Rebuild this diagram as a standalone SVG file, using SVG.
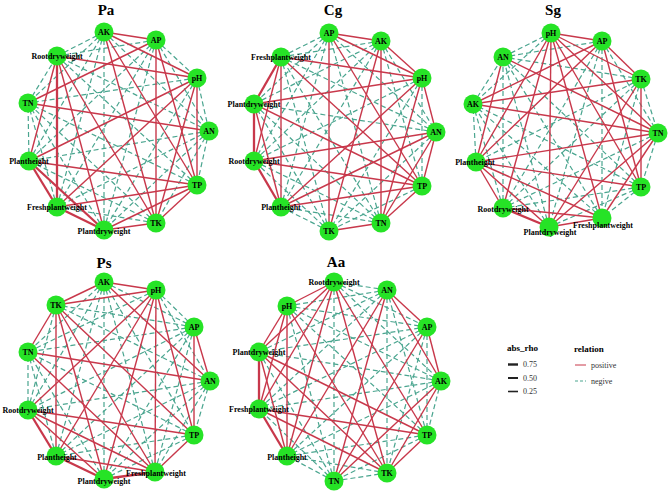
<svg xmlns="http://www.w3.org/2000/svg" width="669" height="496" viewBox="0 0 669 496">
<style>
.n{stroke:#4aa58f;stroke-width:1.2;stroke-dasharray:5 3;fill:none}
.p{stroke:#c8384b;stroke-width:1.4;fill:none}
.t{stroke-width:2.3}
.nd{fill:#26e326}
.lb{font-family:"Liberation Serif",serif;font-weight:bold;font-size:8px;fill:#000;text-anchor:middle}
.ti{font-family:"Liberation Serif",serif;font-weight:bold;font-size:15px;fill:#000;text-anchor:middle}
.lt{font-family:"Liberation Serif",serif;font-weight:bold;font-size:9px;fill:#000}
.li{font-family:"Liberation Serif",serif;font-size:8px;fill:#333}
</style>
<rect width="669" height="496" fill="#fff"/>
<g id="titles">
<text class="ti" x="106" y="15">Pa</text>
<text class="ti" x="333" y="15">Cg</text>
<text class="ti" x="553" y="15">Sg</text>
<text class="ti" x="104" y="268">Ps</text>
<text class="ti" x="336" y="267">Aa</text>
</g>
<g id="connectors">
<g id="pa-edges">
<path class="n" d="M104 32L209 131"/><path class="n" d="M104 32L104 230"/><path class="n" d="M104 32L57 207"/><path class="n" d="M104 32L29 161"/><path class="n" d="M104 32L28 103"/><path class="n" d="M104 32L57 56"/>
<path class="n" d="M156 40L197 78"/><path class="n" d="M156 40L209 131"/><path class="n" d="M156 40L104 230"/><path class="n" d="M156 40L57 207"/><path class="n" d="M156 40L29 161"/><path class="n" d="M156 40L57 56"/>
<path class="n" d="M197 78L209 131"/><path class="n" d="M197 78L104 230"/><path class="n" d="M197 78L28 103"/>
<path class="n" d="M209 131L197 185"/><path class="n" d="M209 131L156 223"/><path class="n" d="M209 131L104 230"/><path class="n" d="M209 131L57 207"/><path class="n" d="M209 131L29 161"/><path class="n" d="M209 131L57 56"/>
<path class="n" d="M197 185L28 103"/><path class="n" d="M197 185L57 56"/>
<path class="n" d="M156 223L57 207"/><path class="n" d="M156 223L29 161"/><path class="n" d="M156 223L28 103"/>
<path class="n" d="M104 230L28 103"/><path class="n" d="M57 207L28 103"/><path class="n" d="M29 161L28 103"/><path class="n" d="M28 103L57 56"/>
<path class="p" d="M104 32L156 40"/><path class="p" d="M104 32L197 78"/><path class="p" d="M104 32L197 185"/><path class="p" d="M104 32L156 223"/>
<path class="p" d="M197 78L57 56"/><path class="p t" d="M57 207L57 56"/><path class="p" d="M29 161L57 56"/><path class="p" d="M104 230L57 56"/><path class="p" d="M156 223L57 56"/>
<path class="p" d="M209 131L28 103"/><path class="p" d="M156 40L28 103"/><path class="p" d="M197 185L29 161"/><path class="p" d="M197 78L29 161"/><path class="p t" d="M104 230L29 161"/><path class="p t" d="M57 207L29 161"/><path class="p t" d="M104 230L57 207"/>
<path class="p" d="M197 78L57 207"/><path class="p" d="M197 185L57 207"/><path class="p" d="M197 185L104 230"/><path class="p" d="M156 223L104 230"/><path class="p" d="M197 78L197 185"/><path class="p" d="M197 78L156 223"/><path class="p" d="M156 40L197 185"/><path class="p" d="M156 40L156 223"/><path class="p" d="M197 185L156 223"/>
</g>
<g id="cg-edges">
<path class="n" d="M329 33L436 132"/><path class="n" d="M329 33L381 223"/><path class="n" d="M329 33L281 207"/><path class="n" d="M329 33L254 161"/><path class="n" d="M329 33L254 104"/><path class="n" d="M329 33L281 57"/>
<path class="n" d="M381 41L436 132"/><path class="n" d="M381 41L422 186"/><path class="n" d="M381 41L281 207"/><path class="n" d="M381 41L254 161"/><path class="n" d="M381 41L254 104"/><path class="n" d="M381 41L281 57"/>
<path class="n" d="M422 78L422 186"/><path class="n" d="M422 78L329 231"/><path class="n" d="M422 78L254 161"/>
<path class="n" d="M436 132L329 231"/><path class="n" d="M436 132L254 104"/><path class="n" d="M436 132L281 57"/>
<path class="n" d="M422 186L329 231"/>
<path class="n" d="M381 223L281 207"/><path class="n" d="M381 223L254 161"/><path class="n" d="M381 223L254 104"/><path class="n" d="M381 223L281 57"/>
<path class="n" d="M329 231L281 207"/><path class="n" d="M329 231L254 161"/><path class="n" d="M329 231L254 104"/><path class="n" d="M329 231L281 57"/>
<path class="p" d="M329 33L381 41"/><path class="p" d="M329 33L422 78"/><path class="p" d="M329 33L422 186"/><path class="p" d="M329 33L329 231"/>
<path class="p" d="M381 41L422 78"/><path class="p" d="M381 41L381 223"/><path class="p" d="M381 41L329 231"/>
<path class="p" d="M422 78L436 132"/><path class="p" d="M422 78L381 223"/><path class="p" d="M422 78L281 207"/><path class="p" d="M422 78L254 104"/><path class="p" d="M422 78L281 57"/>
<path class="p" d="M436 132L422 186"/><path class="p" d="M436 132L381 223"/><path class="p" d="M436 132L281 207"/><path class="p" d="M436 132L254 161"/>
<path class="p" d="M422 186L381 223"/><path class="p" d="M422 186L281 207"/><path class="p" d="M422 186L254 161"/><path class="p" d="M422 186L254 104"/><path class="p" d="M422 186L281 57"/>
<path class="p" d="M381 223L329 231"/>
<path class="p t" d="M281 207L254 161"/><path class="p" d="M281 207L254 104"/><path class="p" d="M281 207L281 57"/><path class="p t" d="M254 161L254 104"/><path class="p" d="M254 161L281 57"/><path class="p t" d="M254 104L281 57"/>
</g>
<g id="sg-edges">
<path class="n" d="M551 33L473 104"/><path class="n" d="M551 33L503 57"/>
<path class="n" d="M602 41L658 133"/><path class="n" d="M602 41L602 218"/><path class="n" d="M602 41L549 227"/><path class="n" d="M602 41L503 208"/><path class="n" d="M602 41L503 57"/>
<path class="n" d="M641 79L658 133"/><path class="n" d="M641 79L602 218"/><path class="n" d="M641 79L503 208"/><path class="n" d="M641 79L476 162"/><path class="n" d="M641 79L503 57"/>
<path class="n" d="M658 133L641 187"/><path class="n" d="M658 133L503 208"/>
<path class="n" d="M641 187L602 218"/><path class="n" d="M641 187L549 227"/><path class="n" d="M641 187L503 208"/><path class="n" d="M641 187L473 104"/><path class="n" d="M641 187L503 57"/>
<path class="n" d="M602 218L473 104"/><path class="n" d="M602 218L503 57"/><path class="n" d="M549 227L473 104"/><path class="n" d="M549 227L503 57"/>
<path class="n" d="M503 208L473 104"/><path class="n" d="M503 208L503 57"/><path class="n" d="M476 162L473 104"/><path class="n" d="M473 104L503 57"/>
<path class="p" d="M551 33L602 41"/><path class="p" d="M551 33L641 79"/><path class="p" d="M551 33L658 133"/><path class="p" d="M551 33L641 187"/><path class="p" d="M551 33L602 218"/><path class="p" d="M551 33L549 227"/><path class="p" d="M551 33L503 208"/><path class="p" d="M551 33L476 162"/>
<path class="p" d="M602 41L641 79"/><path class="p" d="M602 41L641 187"/><path class="p" d="M602 41L476 162"/><path class="p" d="M602 41L473 104"/>
<path class="p" d="M641 79L641 187"/><path class="p" d="M641 79L549 227"/><path class="p" d="M641 79L473 104"/>
<path class="p" d="M658 133L602 218"/><path class="p" d="M658 133L549 227"/><path class="p" d="M658 133L476 162"/><path class="p" d="M658 133L473 104"/><path class="p" d="M658 133L503 57"/>
<path class="p" d="M641 187L476 162"/>
<path class="p" d="M602 218L549 227"/><path class="p" d="M602 218L503 208"/><path class="p" d="M602 218L476 162"/>
<path class="p t" d="M549 227L503 208"/><path class="p" d="M549 227L476 162"/><path class="p" d="M503 208L476 162"/><path class="p" d="M476 162L503 57"/>
</g>
<g id="ps-edges">
<path class="n" d="M104 282L194 327"/><path class="n" d="M104 282L194 435"/><path class="n" d="M104 282L155 472"/><path class="n" d="M104 282L104 479"/><path class="n" d="M104 282L56 456"/><path class="n" d="M104 282L28 410"/><path class="n" d="M104 282L28 352"/>
<path class="n" d="M156 290L194 327"/><path class="n" d="M156 290L210 381"/><path class="n" d="M156 290L28 352"/>
<path class="n" d="M194 327L155 472"/><path class="n" d="M194 327L104 479"/><path class="n" d="M194 327L56 456"/><path class="n" d="M194 327L28 410"/><path class="n" d="M194 327L28 352"/><path class="n" d="M194 327L56 305"/>
<path class="n" d="M210 381L194 435"/><path class="n" d="M210 381L155 472"/><path class="n" d="M210 381L104 479"/><path class="n" d="M210 381L56 456"/><path class="n" d="M210 381L28 410"/><path class="n" d="M210 381L56 305"/>
<path class="n" d="M194 435L104 479"/><path class="n" d="M194 435L56 456"/><path class="n" d="M194 435L28 352"/>
<path class="n" d="M104 479L28 352"/><path class="n" d="M56 456L28 352"/><path class="n" d="M28 410L28 352"/><path class="n" d="M28 410L56 305"/>
<path class="p" d="M104 282L156 290"/><path class="p" d="M104 282L210 381"/><path class="p" d="M104 282L56 305"/>
<path class="p" d="M156 290L194 435"/><path class="p" d="M156 290L155 472"/><path class="p" d="M156 290L104 479"/><path class="p" d="M156 290L56 456"/><path class="p" d="M156 290L28 410"/><path class="p" d="M156 290L56 305"/>
<path class="p" d="M194 327L210 381"/><path class="p" d="M194 327L194 435"/><path class="p" d="M210 381L28 352"/>
<path class="p" d="M194 435L155 472"/><path class="p" d="M194 435L28 410"/><path class="p" d="M194 435L56 305"/>
<path class="p t" d="M155 472L104 479"/><path class="p" d="M155 472L56 456"/><path class="p" d="M155 472L28 410"/><path class="p" d="M155 472L28 352"/><path class="p" d="M155 472L56 305"/>
<path class="p t" d="M104 479L56 456"/><path class="p" d="M104 479L28 410"/><path class="p" d="M104 479L56 305"/><path class="p t" d="M56 456L28 410"/><path class="p" d="M56 456L56 305"/><path class="p" d="M28 352L56 305"/>
</g>
<g id="aa-edges">
<path class="n" d="M334 282L387 290"/><path class="n" d="M334 282L427 327"/><path class="n" d="M334 282L441 381"/><path class="n" d="M334 282L334 481"/>
<path class="n" d="M387 290L427 435"/><path class="n" d="M387 290L387 473"/><path class="n" d="M387 290L259 409"/><path class="n" d="M387 290L259 352"/><path class="n" d="M387 290L287 306"/>
<path class="n" d="M427 327L427 435"/><path class="n" d="M427 327L387 473"/><path class="n" d="M427 327L287 456"/><path class="n" d="M427 327L259 409"/><path class="n" d="M427 327L259 352"/><path class="n" d="M427 327L287 306"/>
<path class="n" d="M441 381L427 435"/><path class="n" d="M441 381L287 456"/><path class="n" d="M441 381L259 409"/><path class="n" d="M441 381L259 352"/><path class="n" d="M441 381L287 306"/>
<path class="n" d="M427 435L334 481"/><path class="n" d="M427 435L287 456"/><path class="n" d="M427 435L287 306"/>
<path class="n" d="M387 473L334 481"/><path class="n" d="M387 473L287 456"/>
<path class="n" d="M334 481L287 456"/><path class="n" d="M334 481L259 409"/><path class="n" d="M334 481L259 352"/><path class="n" d="M334 481L287 306"/>
<path class="p" d="M334 282L427 435"/><path class="p" d="M334 282L387 473"/><path class="p" d="M334 282L287 456"/><path class="p" d="M334 282L259 409"/><path class="p" d="M334 282L259 352"/><path class="p" d="M334 282L287 306"/>
<path class="p" d="M387 290L427 327"/><path class="p" d="M387 290L441 381"/><path class="p" d="M387 290L334 481"/><path class="p" d="M387 290L287 456"/>
<path class="p" d="M427 327L441 381"/><path class="p" d="M427 327L334 481"/><path class="p" d="M441 381L387 473"/><path class="p" d="M441 381L334 481"/>
<path class="p" d="M427 435L387 473"/><path class="p" d="M427 435L259 409"/><path class="p" d="M427 435L259 352"/>
<path class="p" d="M387 473L259 409"/><path class="p" d="M387 473L259 352"/><path class="p" d="M387 473L287 306"/>
<path class="p t" d="M287 456L259 409"/><path class="p" d="M287 456L259 352"/><path class="p" d="M287 456L287 306"/><path class="p t" d="M259 409L259 352"/><path class="p" d="M259 409L287 306"/><path class="p" d="M259 352L287 306"/>
</g>
</g>
<g id="pa-nodes">
<g id="pa-AK"><circle class="nd" cx="104" cy="32" r="9.5"/><text class="lb" x="104" y="35">AK</text></g>
<g id="pa-AP"><circle class="nd" cx="156" cy="40" r="9.5"/><text class="lb" x="156" y="43">AP</text></g>
<g id="pa-pH"><circle class="nd" cx="197" cy="78" r="9.5"/><text class="lb" x="197" y="81">pH</text></g>
<g id="pa-AN"><circle class="nd" cx="209" cy="131" r="9.5"/><text class="lb" x="209" y="134">AN</text></g>
<g id="pa-TP"><circle class="nd" cx="197" cy="185" r="9.5"/><text class="lb" x="197" y="188">TP</text></g>
<g id="pa-TK"><circle class="nd" cx="156" cy="223" r="9.5"/><text class="lb" x="156" y="226">TK</text></g>
<g id="pa-Plantdryweight"><circle class="nd" cx="104" cy="230" r="9.5"/><text class="lb" x="104" y="234">Plantdryweight</text></g>
<g id="pa-Freshplantweight"><circle class="nd" cx="57" cy="207" r="9.5"/><text class="lb" x="57" y="210">Freshplantweight</text></g>
<g id="pa-Plantheight"><circle class="nd" cx="29" cy="161" r="9.5"/><text class="lb" x="29" y="164">Plantheight</text></g>
<g id="pa-TN"><circle class="nd" cx="28" cy="103" r="9.5"/><text class="lb" x="28" y="106">TN</text></g>
<g id="pa-Rootdryweight"><circle class="nd" cx="57" cy="56" r="9.5"/><text class="lb" x="57" y="59">Rootdryweight</text></g>
</g>
<g id="cg-nodes">
<g id="cg-AP"><circle class="nd" cx="329" cy="33" r="9.5"/><text class="lb" x="329" y="36">AP</text></g>
<g id="cg-AK"><circle class="nd" cx="381" cy="41" r="9.5"/><text class="lb" x="381" y="44">AK</text></g>
<g id="cg-pH"><circle class="nd" cx="422" cy="78" r="9.5"/><text class="lb" x="422" y="81">pH</text></g>
<g id="cg-AN"><circle class="nd" cx="436" cy="132" r="9.5"/><text class="lb" x="436" y="135">AN</text></g>
<g id="cg-TP"><circle class="nd" cx="422" cy="186" r="9.5"/><text class="lb" x="422" y="189">TP</text></g>
<g id="cg-TN"><circle class="nd" cx="381" cy="223" r="9.5"/><text class="lb" x="381" y="226">TN</text></g>
<g id="cg-TK"><circle class="nd" cx="329" cy="231" r="9.5"/><text class="lb" x="329" y="234">TK</text></g>
<g id="cg-Plantheight"><circle class="nd" cx="281" cy="207" r="9.5"/><text class="lb" x="281" y="210">Plantheight</text></g>
<g id="cg-Rootdryweight"><circle class="nd" cx="254" cy="161" r="9.5"/><text class="lb" x="254" y="164">Rootdryweight</text></g>
<g id="cg-Plantdryweight"><circle class="nd" cx="254" cy="104" r="9.5"/><text class="lb" x="254" y="107">Plantdryweight</text></g>
<g id="cg-Freshplantweight"><circle class="nd" cx="281" cy="57" r="9.5"/><text class="lb" x="281" y="60">Freshplantweight</text></g>
</g>
<g id="sg-nodes">
<g id="sg-pH"><circle class="nd" cx="551" cy="33" r="9.5"/><text class="lb" x="551" y="36">pH</text></g>
<g id="sg-AP"><circle class="nd" cx="602" cy="41" r="9.5"/><text class="lb" x="602" y="44">AP</text></g>
<g id="sg-TK"><circle class="nd" cx="641" cy="79" r="9.5"/><text class="lb" x="641" y="82">TK</text></g>
<g id="sg-TN"><circle class="nd" cx="658" cy="133" r="9.5"/><text class="lb" x="658" y="136">TN</text></g>
<g id="sg-TP"><circle class="nd" cx="641" cy="187" r="9.5"/><text class="lb" x="641" y="190">TP</text></g>
<g id="sg-Freshplantweight"><circle class="nd" cx="602" cy="218" r="9.5"/><text class="lb" x="603" y="228">Freshplantweight</text></g>
<g id="sg-Plantdryweight"><circle class="nd" cx="549" cy="227" r="9.5"/><text class="lb" x="550" y="235">Plantdryweight</text></g>
<g id="sg-Rootdryweight"><circle class="nd" cx="503" cy="208" r="9.5"/><text class="lb" x="503" y="212">Rootdryweight</text></g>
<g id="sg-Plantheight"><circle class="nd" cx="476" cy="162" r="9.5"/><text class="lb" x="475" y="165">Plantheight</text></g>
<g id="sg-AK"><circle class="nd" cx="473" cy="104" r="9.5"/><text class="lb" x="473" y="107">AK</text></g>
<g id="sg-AN"><circle class="nd" cx="503" cy="57" r="9.5"/><text class="lb" x="503" y="60">AN</text></g>
</g>
<g id="ps-nodes">
<g id="ps-AK"><circle class="nd" cx="104" cy="282" r="9.5"/><text class="lb" x="104" y="285">AK</text></g>
<g id="ps-pH"><circle class="nd" cx="156" cy="290" r="9.5"/><text class="lb" x="156" y="293">pH</text></g>
<g id="ps-AP"><circle class="nd" cx="194" cy="327" r="9.5"/><text class="lb" x="194" y="330">AP</text></g>
<g id="ps-AN"><circle class="nd" cx="210" cy="381" r="9.5"/><text class="lb" x="210" y="384">AN</text></g>
<g id="ps-TP"><circle class="nd" cx="194" cy="435" r="9.5"/><text class="lb" x="194" y="438">TP</text></g>
<g id="ps-Freshplantweight"><circle class="nd" cx="155" cy="472" r="9.5"/><text class="lb" x="156" y="476">Freshplantweight</text></g>
<g id="ps-Plantdryweight"><circle class="nd" cx="104" cy="479" r="9.5"/><text class="lb" x="104" y="484">Plantdryweight</text></g>
<g id="ps-Plantheight"><circle class="nd" cx="56" cy="456" r="9.5"/><text class="lb" x="57" y="460">Plantheight</text></g>
<g id="ps-Rootdryweight"><circle class="nd" cx="28" cy="410" r="9.5"/><text class="lb" x="28" y="413">Rootdryweight</text></g>
<g id="ps-TN"><circle class="nd" cx="28" cy="352" r="9.5"/><text class="lb" x="28" y="355">TN</text></g>
<g id="ps-TK"><circle class="nd" cx="56" cy="305" r="9.5"/><text class="lb" x="56" y="308">TK</text></g>
</g>
<g id="aa-nodes">
<g id="aa-Rootdryweight"><circle class="nd" cx="334" cy="282" r="9.5"/><text class="lb" x="334" y="285">Rootdryweight</text></g>
<g id="aa-AN"><circle class="nd" cx="387" cy="290" r="9.5"/><text class="lb" x="387" y="293">AN</text></g>
<g id="aa-AP"><circle class="nd" cx="427" cy="327" r="9.5"/><text class="lb" x="427" y="330">AP</text></g>
<g id="aa-AK"><circle class="nd" cx="441" cy="381" r="9.5"/><text class="lb" x="441" y="384">AK</text></g>
<g id="aa-TP"><circle class="nd" cx="427" cy="435" r="9.5"/><text class="lb" x="427" y="438">TP</text></g>
<g id="aa-TK"><circle class="nd" cx="387" cy="473" r="9.5"/><text class="lb" x="387" y="476">TK</text></g>
<g id="aa-TN"><circle class="nd" cx="334" cy="481" r="9.5"/><text class="lb" x="334" y="484">TN</text></g>
<g id="aa-Plantheight"><circle class="nd" cx="287" cy="456" r="9.5"/><text class="lb" x="287" y="460">Plantheight</text></g>
<g id="aa-Freshplantweight"><circle class="nd" cx="259" cy="409" r="9.5"/><text class="lb" x="259" y="412">Freshplantweight</text></g>
<g id="aa-Plantdryweight"><circle class="nd" cx="259" cy="352" r="9.5"/><text class="lb" x="259" y="355">Plantdryweight</text></g>
<g id="aa-pH"><circle class="nd" cx="287" cy="306" r="9.5"/><text class="lb" x="287" y="309">pH</text></g>
</g>
<g id="legend">
<text class="lt" x="507" y="351">abs_rho</text>
<line x1="508" y1="364.5" x2="518" y2="364.5" stroke="#222" stroke-width="2.4"/>
<text class="li" x="523" y="367">0.75</text>
<line x1="508" y1="378" x2="518" y2="378" stroke="#222" stroke-width="2"/>
<text class="li" x="523" y="381">0.50</text>
<line x1="508" y1="391.5" x2="518" y2="391.5" stroke="#222" stroke-width="1.6"/>
<text class="li" x="523" y="394">0.25</text>
<text class="lt" x="574" y="352">relation</text>
<line x1="575" y1="365" x2="586" y2="365" stroke="#c8384b" stroke-width="1"/>
<text class="li" x="591" y="368">positive</text>
<line x1="575" y1="381" x2="586" y2="381" stroke="#4aa58f" stroke-width="1" stroke-dasharray="3 2"/>
<text class="li" x="591" y="384">negive</text>
</g>
</svg>
